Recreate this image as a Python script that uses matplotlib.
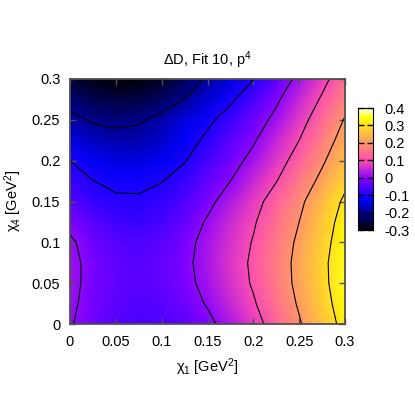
import numpy as np
import matplotlib
matplotlib.use('Agg')
import matplotlib.pyplot as plt
from matplotlib.ticker import FuncFormatter

# Helvetica-like text, greek letters upright like gnuplot's Symbol font
plt.rcParams['font.family'] = ['Liberation Sans', 'DejaVu Sans']
plt.rcParams['mathtext.fontset'] = 'custom'
plt.rcParams['mathtext.rm'] = 'Liberation Sans'
plt.rcParams['mathtext.it'] = 'Liberation Sans'
plt.rcParams['mathtext.bf'] = 'Liberation Sans:bold'
plt.rcParams['font.size'] = 10.5

# grid of chi_1 (columns) and chi_4 (rows), GeV^2
chi1 = [0.0, 0.025, 0.05, 0.075, 0.1, 0.125, 0.15, 0.175, 0.2, 0.225, 0.25, 0.275, 0.3]
chi4 = [0.0, 0.025, 0.05, 0.075, 0.1, 0.125, 0.15, 0.175, 0.2, 0.225, 0.25, 0.275, 0.3]

# Delta D values, one row per chi_4 value
dd_000 = [0.005, -0.029, -0.050, -0.060, -0.057, -0.042, -0.016, 0.027, 0.075, 0.130, 0.193, 0.258, 0.324]
dd_025 = [0.012, -0.022, -0.044, -0.052, -0.047, -0.028, 0.005, 0.049, 0.093, 0.149, 0.208, 0.272, 0.336]
dd_050 = [0.017, -0.019, -0.041, -0.048, -0.040, -0.018, 0.019, 0.063, 0.107, 0.161, 0.218, 0.281, 0.346]
dd_075 = [0.017, -0.019, -0.041, -0.047, -0.038, -0.014, 0.024, 0.067, 0.111, 0.164, 0.220, 0.283, 0.347]
dd_100 = [0.010, -0.027, -0.049, -0.055, -0.045, -0.020, 0.021, 0.062, 0.104, 0.157, 0.213, 0.275, 0.339]
dd_125 = [-0.017, -0.048, -0.069, -0.074, -0.063, -0.035, 0.007, 0.050, 0.093, 0.146, 0.200, 0.264, 0.329]
dd_150 = [-0.046, -0.076, -0.091, -0.092, -0.080, -0.055, -0.017, 0.030, 0.077, 0.129, 0.185, 0.247, 0.313]
dd_175 = [-0.072, -0.099, -0.112, -0.113, -0.102, -0.077, -0.040, 0.000, 0.049, 0.098, 0.157, 0.218, 0.283]
dd_200 = [-0.100, -0.130, -0.146, -0.146, -0.132, -0.103, -0.064, -0.025, 0.019, 0.071, 0.128, 0.190, 0.255]
dd_225 = [-0.142, -0.168, -0.180, -0.178, -0.162, -0.127, -0.087, -0.047, -0.007, 0.045, 0.100, 0.164, 0.229]
dd_250 = [-0.185, -0.207, -0.214, -0.207, -0.183, -0.146, -0.113, -0.073, -0.030, 0.016, 0.074, 0.138, 0.205]
dd_275 = [-0.220, -0.245, -0.255, -0.251, -0.232, -0.198, -0.155, -0.111, -0.061, -0.010, 0.048, 0.108, 0.173]
dd_300 = [-0.260, -0.285, -0.295, -0.292, -0.275, -0.238, -0.193, -0.147, -0.102, -0.043, 0.018, 0.080, 0.144]

levels = [-0.2, -0.1, 0.0, 0.1, 0.2, 0.3]
axis_ticks = [0, 0.05, 0.1, 0.15, 0.2, 0.25, 0.3]
cb_ticks = [-0.3, -0.2, -0.1, 0, 0.1, 0.2, 0.3, 0.4]

Z = np.array([dd_000, dd_025, dd_050, dd_075, dd_100, dd_125, dd_150,
              dd_175, dd_200, dd_225, dd_250, dd_275, dd_300])
X, Y = np.meshgrid(chi1, chi4)

fmt = FuncFormatter(lambda v, pos: '%g' % round(v, 3))
frame_col = '#505050'

fig = plt.figure(figsize=(4.15, 4.04), dpi=100)
ax = fig.add_axes([70/415, 80/404, 275/415, 245/404])

# pm3d-like map (gnuplot palette rgbformulae 30,31,32 == gnuplot2)
mesh = ax.pcolormesh(X, Y, Z, shading='gouraud', cmap='gnuplot2', vmin=-0.3, vmax=0.4)
ax.contour(X, Y, Z, levels=levels, colors='k', linewidths=0.8, linestyles='solid')

ax.set_xlim(0, 0.3)
ax.set_ylim(0, 0.3)
ax.set_xticks(axis_ticks)
ax.set_yticks(axis_ticks)
ax.xaxis.set_major_formatter(fmt)
ax.yaxis.set_major_formatter(fmt)
ax.tick_params(direction='in', top=True, right=True, length=4, width=1,
               color=frame_col, labelsize=10.5)
ax.tick_params(axis='x', pad=8)
ax.tick_params(axis='y', pad=7)
for sp in ax.spines.values():
    sp.set_color(frame_col)
    sp.set_linewidth(1.3)

# titles and axis labels
fig.text(0.4988, (404-60)/404, r'$\Delta$D, Fit 10, p$^4$', ha='center', va='center', fontsize=10.5)
fig.text(0.4988, (404-367)/404, r'$\chi_1$ [GeV$^2$]', ha='center', va='center', fontsize=10.5)
fig.text(13/415, (404-201)/404, r'$\chi_4$ [GeV$^2$]', ha='center', va='center',
         rotation=90, fontsize=10.5)

# colour box
cax = fig.add_axes([358/415, (404-230)/404, 15/415, 122/404])
cb = fig.colorbar(mesh, cax=cax, ticks=cb_ticks)
cb.ax.yaxis.set_major_formatter(fmt)
cb.ax.tick_params(direction='in', left=True, right=True, length=4, width=1,
                  color='k', labelsize=10.5, pad=8)
cb.outline.set_edgecolor('k')
cb.outline.set_linewidth(0.8)

fig.savefig('out.png', dpi=100)
